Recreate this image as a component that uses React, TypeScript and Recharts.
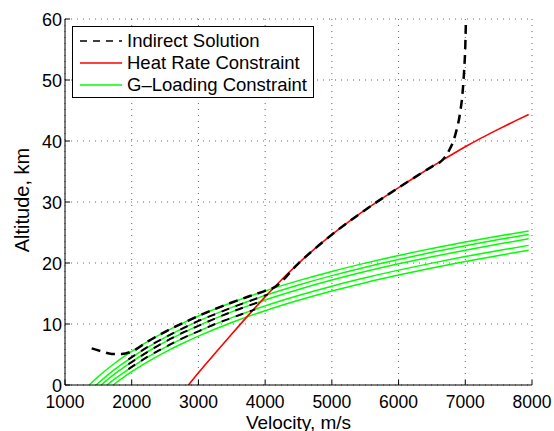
import React from "react";
import { LineChart, Line, XAxis, YAxis, CartesianGrid, Legend } from "recharts";

const velocityTicks = [1000, 2000, 3000, 4000, 5000, 6000, 7000, 8000];
const altitudeTicks = [0, 10, 20, 30, 40, 50, 60];

// Indirect solution (main path)
const indirectV = [1400, 1550, 1700, 1850, 2000, 2250, 2500, 2750, 3000, 3250, 3500, 3750, 4000, 4130, 4500, 5000, 5500, 6000, 6500, 6650, 6750, 6850, 6920, 6960, 6985, 7000, 7010];
const indirectAlt = [6.0, 5.5, 5.1, 5.1, 5.5, 7.2, 8.71, 10.07, 11.31, 12.47, 13.52, 14.5, 15.43, 15.95, 19.95, 24.65, 28.7, 32.35, 35.8, 36.8, 38.3, 41.0, 44.5, 48.0, 52.0, 55.5, 60.0];

// other indirect branches riding the g-loading curves
const branch2V = [1950, 2250, 2500, 2750, 3000, 3250, 3500, 3750, 4040];
const branch2Alt = [4.2, 6.3, 7.8, 9.2, 10.5, 11.6, 12.7, 13.7, 14.85];
const branch3V = [1950, 2250, 2500, 2750, 3000, 3250, 3500, 3750, 3965];
const branch3Alt = [3.4, 5.5, 7.1, 8.5, 9.7, 10.9, 12.0, 13.0, 13.8];
const branch4V = [1950, 2250, 2500, 2750, 3000, 3250, 3500, 3750, 3850];
const branch4Alt = [2.6, 4.7, 6.2, 7.6, 8.8, 10.0, 11.0, 12.0, 12.4];

// Heat rate constraint
const heatV = [2850, 3000, 3250, 3500, 3750, 4000, 4250, 4500, 4750, 5000, 5250, 5500, 5750, 6000, 6250, 6500, 6750, 7000, 7250, 7500, 7750, 7950];
const heatAlt = [0, 2.0, 5.2, 8.35, 11.45, 14.45, 17.3, 19.95, 22.4, 24.65, 26.75, 28.7, 30.55, 32.35, 34.1, 35.8, 37.45, 39.05, 40.55, 41.95, 43.3, 44.35];

// G-loading constraints
const gV1 = [1360, 1500, 1750, 2000, 2250, 2500, 2750, 3000, 3500, 4000, 4500, 5000, 5500, 6000, 6500, 7000, 7500, 7950];
const gAlt1 = [0, 1.4, 3.61, 5.51, 7.2, 8.71, 10.07, 11.31, 13.52, 15.43, 17.11, 18.62, 19.98, 21.23, 22.37, 23.43, 24.42, 25.25];
const gV2 = [1465, 1750, 2000, 2250, 2500, 2750, 3000, 3500, 4000, 4500, 5000, 5500, 6000, 6500, 7000, 7500, 7950];
const gAlt2 = [0, 2.6, 4.54, 6.26, 7.8, 9.2, 10.47, 12.72, 14.67, 16.39, 17.93, 19.32, 20.58, 21.75, 22.83, 23.84, 24.69];
const gV3 = [1540, 1750, 2000, 2250, 2500, 2750, 3000, 3500, 4000, 4500, 5000, 5500, 6000, 6500, 7000, 7500, 7950];
const gAlt3 = [0, 1.87, 3.81, 5.53, 7.07, 8.47, 9.74, 11.99, 13.94, 15.66, 17.2, 18.59, 19.86, 21.02, 22.1, 23.11, 23.96];
const gV4 = [1630, 1750, 2000, 2250, 2500, 2750, 3000, 3500, 4000, 4500, 5000, 5500, 6000, 6500, 7000, 7500, 7950];
const gAlt4 = [0, 1.03, 2.95, 4.66, 6.18, 7.56, 8.81, 11.04, 12.97, 14.67, 16.2, 17.57, 18.83, 19.98, 21.05, 22.05, 22.89];
const gV5 = [1720, 2000, 2250, 2500, 2750, 3000, 3500, 4000, 4500, 5000, 5500, 6000, 6500, 7000, 7500, 7950];
const gAlt5 = [0, 2.18, 3.88, 5.4, 6.77, 8.02, 10.25, 12.18, 13.88, 15.4, 16.77, 18.02, 19.18, 20.25, 21.24, 22.08];

const legendNames = ["Indirect Solution", "Heat Rate Constraint", "G\u2013Loading Constraint"];

const toPoints = (v: number[], a: number[]) => v.map((x, i) => ({ v: x, alt: a[i] }));

const FONT = "'Liberation Sans', Arial, Helvetica, sans-serif";

const BottomTick = (props: any) => {
  const { x, y, payload } = props;
  return (
    <g>
      <line x1={x} y1={y} x2={x} y2={y - 5} stroke="#000" />
      <text x={x} y={y + 23} textAnchor="middle" fontSize={17.5} fill="#000" fontFamily={FONT}>
        {payload.value}
      </text>
    </g>
  );
};

const TopTick = (props: any) => {
  const { x, y } = props;
  return <line x1={x} y1={y} x2={x} y2={y + 5} stroke="#000" />;
};

const LeftTick = (props: any) => {
  const { x, y, payload } = props;
  return (
    <g>
      <line x1={x} y1={y} x2={x + 5} y2={y} stroke="#000" />
      <text x={x - 3} y={y + 6.5} textAnchor="end" fontSize={18} fill="#000" fontFamily={FONT}>
        {payload.value}
      </text>
    </g>
  );
};

const RightTick = (props: any) => {
  const { x, y } = props;
  return <line x1={x} y1={y} x2={x - 5} y2={y} stroke="#000" />;
};

const YLabel = (props: any) => {
  const vb = props.viewBox || { x: 5, y: 19, width: 60, height: 366 };
  const cx = vb.x + 24;
  const cy = vb.y + vb.height / 2 - 2;
  return (
    <text x={cx} y={cy} transform={`rotate(-90 ${cx} ${cy})`} textAnchor="middle" fontSize={20} fill="#000" fontFamily={FONT}>
      Altitude, km
    </text>
  );
};

const XLabel = (props: any) => {
  const vb = props.viewBox || { x: 65, y: 385, width: 467, height: 46 };
  return (
    <text x={vb.x + vb.width / 2} y={vb.y + 43.5} textAnchor="middle" fontSize={19} fill="#000" fontFamily={FONT}>
      Velocity, m/s
    </text>
  );
};

const legendStyles = [
  { stroke: "#000", dash: "7 6", width: 1.5 },
  { stroke: "#ff0000", dash: undefined, width: 1.3 },
  { stroke: "#00ff00", dash: undefined, width: 1.3 },
];

const LegendBox = () => (
  <div
    style={{
      width: 242,
      height: 72,
      boxSizing: "border-box",
      border: "1px solid #000",
      background: "#fff",
      paddingTop: 3,
      fontFamily: FONT,
      fontSize: 18.5,
      color: "#000",
    }}
  >
    {legendNames.map((name, i) => (
      <div key={name} style={{ display: "flex", alignItems: "center", height: 22 }}>
        <svg width={54} height={22} style={{ flex: "none" }}>
          <line
            x1={7}
            y1={11}
            x2={49}
            y2={11}
            stroke={legendStyles[i].stroke}
            strokeWidth={legendStyles[i].width}
            strokeDasharray={legendStyles[i].dash}
          />
        </svg>
        <span style={{ lineHeight: "22px", whiteSpace: "nowrap" }}>{name}</span>
      </div>
    ))}
  </div>
);

export default function App() {
  const greens = [
    toPoints(gV1, gAlt1),
    toPoints(gV2, gAlt2),
    toPoints(gV3, gAlt3),
    toPoints(gV4, gAlt4),
    toPoints(gV5, gAlt5),
  ];
  const branches = [toPoints(branch2V, branch2Alt), toPoints(branch3V, branch3Alt), toPoints(branch4V, branch4Alt)];
  return (
    <div style={{ position: "absolute", left: 0, top: 0, background: "#fff" }}>
      <LineChart width={554} height={431} margin={{ top: 19, right: 22, bottom: 0, left: 5 }} style={{ fontFamily: FONT }}>
        <CartesianGrid stroke="#666" strokeDasharray="1 5" />
        <XAxis
          dataKey="v"
          type="number"
          domain={[1000, 8000]}
          ticks={velocityTicks}
          allowDataOverflow
          height={46}
          tickSize={0}
          tickMargin={0}
          tickLine={false}
          tick={<BottomTick />}
          stroke="#000"
          interval={0}
          label={<XLabel />}
        />
        <XAxis
          xAxisId="top"
          orientation="top"
          dataKey="v"
          type="number"
          domain={[1000, 8000]}
          ticks={velocityTicks}
          allowDataOverflow
          height={0}
          tickSize={0}
          tickMargin={0}
          tickLine={false}
          tick={<TopTick />}
          stroke="#000"
          interval={0}
        />
        <YAxis
          type="number"
          domain={[0, 60]}
          ticks={altitudeTicks}
          allowDataOverflow
          width={60}
          tickSize={0}
          tickMargin={0}
          tickLine={false}
          tick={<LeftTick />}
          stroke="#000"
          interval={0}
          label={<YLabel />}
        />
        <YAxis
          yAxisId="right"
          orientation="right"
          type="number"
          domain={[0, 60]}
          ticks={altitudeTicks}
          allowDataOverflow
          width={0}
          tickSize={0}
          tickMargin={0}
          tickLine={false}
          tick={<RightTick />}
          stroke="#000"
          interval={0}
        />
        <Legend
          layout="vertical"
          verticalAlign="middle"
          align="center"
          content={<LegendBox />}
          wrapperStyle={{ left: 72, top: 26, width: 242, height: 72 }}
        />
        {greens.map((d, i) => (
          <Line
            key={`g${i}`}
            data={d}
            dataKey="alt"
            name={i === 0 ? legendNames[2] : `g${i}`}
            legendType={i === 0 ? "line" : "none"}
            type="monotone"
            stroke="#00ff00"
            strokeWidth={1.5}
            dot={false}
            activeDot={false}
            isAnimationActive={false}
          />
        ))}
        <Line
          data={toPoints(heatV, heatAlt)}
          dataKey="alt"
          name={legendNames[1]}
          type="monotone"
          stroke="#ff0000"
          strokeWidth={1.6}
          dot={false}
          activeDot={false}
          isAnimationActive={false}
        />
        {branches.map((d, i) => (
          <Line
            key={`b${i}`}
            data={d}
            dataKey="alt"
            name={`branch${i}`}
            legendType="none"
            type="monotone"
            stroke="#000"
            strokeWidth={2}
            strokeDasharray="8 7"
            dot={false}
            activeDot={false}
            isAnimationActive={false}
          />
        ))}
        <Line
          data={toPoints(indirectV, indirectAlt)}
          dataKey="alt"
          name={legendNames[0]}
          type="monotone"
          stroke="#000"
          strokeWidth={2.5}
          strokeDasharray="9 6"
          dot={false}
          activeDot={false}
          isAnimationActive={false}
        />
      </LineChart>
    </div>
  );
}
